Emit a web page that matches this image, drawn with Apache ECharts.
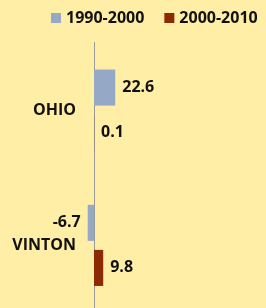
<!DOCTYPE html>
<html>
<head>
<meta charset="utf-8">
<script src="https://cdn.jsdelivr.net/npm/echarts@6/dist/echarts.min.js"></script>
<style>
html,body{margin:0;padding:0;background:#FFEEA6;}
#c{width:266px;height:308px;}
</style>
</head>
<body>
<div id="c"></div>
<script>
var categories = ['OHIO', 'VINTON'];
var seriesNames = ['1990-2000', '2000-2010'];
var values1990 = [22.6, -6.7];
var values2000 = [0.1, 9.8];

var FONT = 'Open Sans';
function mk(vals) {
  return vals.map(function (v) {
    return { value: v, label: { position: v < 0 ? 'left' : 'right' } };
  });
}
var chart = echarts.init(document.getElementById('c'));
chart.setOption({
  backgroundColor: '#FFEEA6',
  animation: false,
  legend: {
    top: 5, left: 46, width: 240, orient: 'horizontal',
    itemWidth: 10, itemHeight: 10, itemGap: 20,
    icon: 'rect',
    textStyle: { fontFamily: FONT, fontWeight: 'bold', fontSize: 16, color: '#111' },
    data: seriesNames
  },
  grid: { left: 0, right: 0, top: 42.5, bottom: -5, containLabel: false, outerBoundsMode: 'none' },
  xAxis: {
    type: 'value', min: -100, max: 183,
    axisLine: { show: false }, axisTick: { show: false },
    axisLabel: { show: false }, splitLine: { show: false }
  },
  yAxis: {
    type: 'category', data: categories, inverse: true,
    offset: -94,
    axisLine: { show: true, onZero: false, lineStyle: { color: '#999999', width: 1 } },
    axisTick: { show: false },
    axisLabel: { margin: 18, fontFamily: FONT, fontWeight: 'bold', fontSize: 16, color: '#111' }
  },
  series: [
    {
      name: seriesNames[0], type: 'bar', data: mk(values1990),
      itemStyle: { color: '#95A9C6' },
      barCategoryGap: '40%', barGap: '25%',
      label: { show: true, distance: 7, fontFamily: FONT, fontWeight: 'bold', fontSize: 16, color: '#111' }
    },
    {
      name: seriesNames[1], type: 'bar', data: mk(values2000),
      itemStyle: { color: '#8B2A04' },
      barCategoryGap: '40%', barGap: '25%',
      label: { show: true, distance: 7, fontFamily: FONT, fontWeight: 'bold', fontSize: 16, color: '#111' }
    }
  ]
});
</script>
</body>
</html>
